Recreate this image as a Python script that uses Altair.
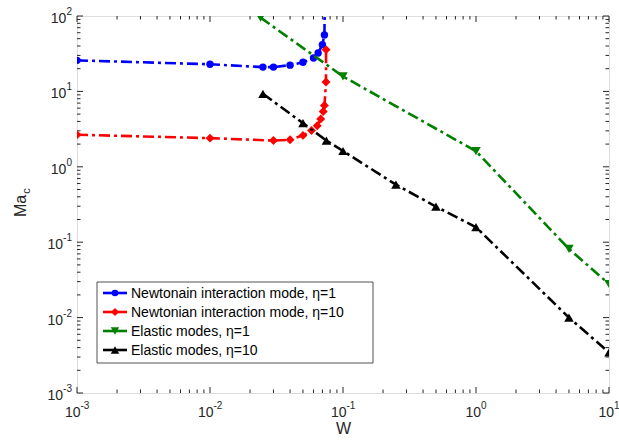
import math
import altair as alt
import pandas as pd

# Critical Marangoni number Ma_c as a function of W
W_newt_eta1 = [0.001, 0.01, 0.025, 0.03, 0.04, 0.05, 0.06, 0.065, 0.07, 0.0725, 0.0732]
Ma_newt_eta1 = [25.8, 22.9, 21.0, 21.0, 22.3, 24.3, 27.7, 32.3, 41.7, 56.0, 300.0]

W_newt_eta10 = [0.001, 0.01, 0.03, 0.04, 0.05, 0.058, 0.064, 0.068, 0.071, 0.0725, 0.0745, 0.0746]
Ma_newt_eta10 = [2.66, 2.40, 2.23, 2.28, 2.61, 3.03, 3.5, 4.3, 5.4, 6.5, 13.3, 35.8]

W_el_eta1 = [0.024, 0.1, 1.0, 5.0, 10.0]
Ma_el_eta1 = [95.0, 15.8, 1.61, 0.0815, 0.0279]

W_el_eta10 = [0.025, 0.05, 0.075, 0.1, 0.25, 0.5, 1.0, 5.0, 10.0]
Ma_el_eta10 = [9.3, 3.79, 2.23, 1.62, 0.58, 0.297, 0.158, 0.01, 0.00345]

labels = [
    "Newtonain interaction mode, \u03b7=1",
    "Newtonian interaction mode, \u03b7=10",
    "Elastic modes, \u03b7=1",
    "Elastic modes, \u03b7=10",
]
series = [
    (W_newt_eta1, Ma_newt_eta1),
    (W_newt_eta10, Ma_newt_eta10),
    (W_el_eta1, Ma_el_eta1),
    (W_el_eta10, Ma_el_eta10),
]
colors = ["#0000ff", "#ff0000", "#008000", "#000000"]
shapes = ["circle", "diamond", "triangle-down", "triangle-up"]
sizes = [55, 80, 90, 90]

x_decades = [1e-3, 1e-2, 1e-1, 1e0, 1e1]
y_decades = [1e-3, 1e-2, 1e-1, 1e0, 1e1, 1e2]
x_minor = [m * d for d in x_decades[:-1] for m in range(2, 10)]
y_minor = [m * d for d in y_decades[:-1] for m in range(2, 10)]

PW, PH = 532, 377
AX = "#262626"
FONT = "Liberation Sans"

x_scale = alt.Scale(type="log", domain=[1e-3, 10])
y_scale = alt.Scale(type="log", domain=[1e-3, 100])

x_axis = alt.Axis(values=x_decades, labels=False, ticks=False, domain=False,
                  grid=False, title="W", titleFontSize=16, titleFontWeight="normal",
                  titlePadding=27, titleColor=AX, titleFont=FONT)
y_axis = alt.Axis(values=y_decades, labels=False, ticks=False, domain=False,
                  grid=False, title="")


def xenc(field):
    return alt.X(field, scale=x_scale, axis=x_axis)


def yenc(field):
    return alt.Y(field, scale=y_scale, axis=y_axis)


layers = []
for (ws, ms), col, shp, sz in zip(series, colors, shapes, sizes):
    df = pd.DataFrame({"W": ws, "Ma": ms, "idx": range(len(ws))})
    base = alt.Chart(df)
    line = base.mark_line(color=col, strokeWidth=2.6, strokeDash=[11, 4, 3, 4],
                          clip=True).encode(x=xenc("W:Q"), y=yenc("Ma:Q"), order="idx:Q")
    pts = base.mark_point(shape=shp, filled=True, color=col, size=sz, opacity=1,
                          clip=True).encode(x=xenc("W:Q"), y=yenc("Ma:Q"))
    layers += [line, pts]


# inward ticks on all four sides
def tick_layers(vals, axis, length):
    df = pd.DataFrame({"v": vals})
    c = alt.Chart(df).mark_rule(color=AX, strokeWidth=1)
    if axis == "x":
        f = xenc("v:Q")
        return [c.encode(x=f, y=alt.value(PH), y2=alt.value(PH - length)),
                c.encode(x=f, y=alt.value(0), y2=alt.value(length))]
    f = yenc("v:Q")
    return [c.encode(y=f, x=alt.value(0), x2=alt.value(length)),
            c.encode(y=f, x=alt.value(PW), x2=alt.value(PW - length))]


ticks = (tick_layers(x_decades, "x", 6) + tick_layers(x_minor, "x", 3.5)
         + tick_layers(y_decades, "y", 6) + tick_layers(y_minor, "y", 3.5))


# decade labels written as 10 with a raised exponent
def decade_df(vals):
    exps = [int(round(math.log10(v))) for v in vals]
    return pd.DataFrame({"v": vals, "e": [str(e).replace("-", "-") for e in exps],
                         "neg": [e < 0 for e in exps]})


tick_labels = []
for neg in (True, False):
    dfx = decade_df(x_decades)
    dfx = dfx[dfx["neg"] == neg]
    dfy = decade_df(y_decades)
    dfy = dfy[dfy["neg"] == neg]
    shift = 3.5 if neg else 5
    tick_labels += [
        alt.Chart(dfx).mark_text(text="10", fontSize=14, font=FONT, color=AX,
                                 align="right", baseline="alphabetic", dx=shift).encode(
            x=xenc("v:Q"), y=alt.value(PH + 24)),
        alt.Chart(dfx).mark_text(fontSize=10, font=FONT, color=AX, align="left",
                                 baseline="alphabetic", dx=shift).encode(
            x=xenc("v:Q"), y=alt.value(PH + 16), text="e:N"),
    ]
    ew = 9 if neg else 5.6
    tick_labels += [
        alt.Chart(dfy).mark_text(text="10", fontSize=14, font=FONT, color=AX,
                                 align="right", baseline="alphabetic", dy=7).encode(
            y=yenc("v:Q"), x=alt.value(-5 - ew)),
        alt.Chart(dfy).mark_text(fontSize=10, font=FONT, color=AX, align="right",
                                 baseline="alphabetic", dy=-1).encode(
            y=yenc("v:Q"), x=alt.value(-5), text="e:N"),
    ]

# y axis title with subscript
one = pd.DataFrame({"t": ["Ma"]})
ytitle = [
    alt.Chart(one).mark_text(text="Ma", angle=270, fontSize=16, font=FONT, color=AX,
                             align="center", baseline="alphabetic").encode(
        x=alt.value(-51), y=alt.value(190)),
    alt.Chart(one).mark_text(text="c", angle=270, fontSize=11, font=FONT, color=AX,
                             align="center", baseline="alphabetic").encode(
        x=alt.value(-47), y=alt.value(175)),
]

# legend box
LX0, LX1, LY0, LY1 = 20, 296, 266, 347
legend = [alt.Chart(one).mark_rect(fill="white", stroke=AX, strokeWidth=0.8).encode(
    x=alt.value(LX0), x2=alt.value(LX1), y=alt.value(LY0), y2=alt.value(LY1))]
for i, (lab, col, shp, sz) in enumerate(zip(labels, colors, shapes, sizes)):
    ry = 277 + 19 * i
    lab_df = pd.DataFrame({"t": [lab]})
    legend += [
        alt.Chart(lab_df).mark_rule(color=col, strokeWidth=2.6).encode(
            x=alt.value(26), x2=alt.value(50), y=alt.value(ry)),
        alt.Chart(lab_df).mark_point(shape=shp, filled=True, color=col, size=sz * 0.8,
                                     opacity=1).encode(x=alt.value(38), y=alt.value(ry)),
        alt.Chart(lab_df).mark_text(align="left", baseline="middle", fontSize=14,
                                    font=FONT, color="#000000").encode(
            x=alt.value(54), y=alt.value(ry + 1), text="t:N"),
    ]

chart = alt.layer(*ticks, *layers, *tick_labels, *ytitle, *legend).properties(
    width=PW, height=PH,
    padding={"left": 77, "top": 16, "right": 10, "bottom": 53},
    autosize=alt.AutoSizeParams(type="none"),
).configure_view(stroke=AX, strokeWidth=1).configure(background="white")

chart.save("out.html", embed_options={"renderer": "svg", "actions": False})
